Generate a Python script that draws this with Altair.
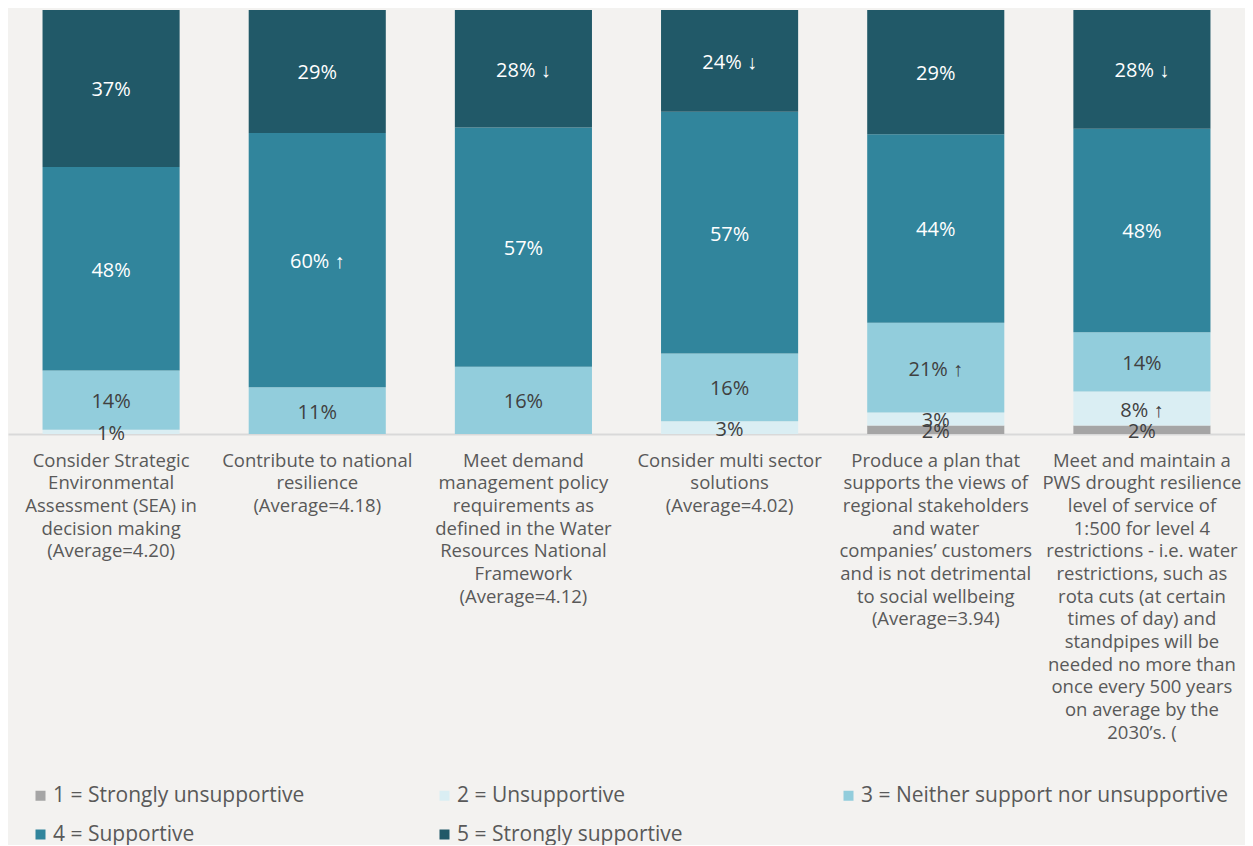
import altair as alt
import pandas as pd

categories = [
    "Consider Strategic|Environmental|Assessment (SEA) in|decision making|(Average=4.20)",
    "Contribute to national|resilience|(Average=4.18)",
    "Meet demand|management policy|requirements as|defined in the Water|Resources National|Framework|(Average=4.12)",
    "Consider multi sector|solutions|(Average=4.02)",
    "Produce a plan that|supports the views of|regional stakeholders|and water|companies\u2019 customers|and is not detrimental|to social wellbeing|(Average=3.94)",
    "Meet and maintain a|PWS drought resilience|level of service of|1:500 for level 4|restrictions - i.e. water|restrictions, such as|rota cuts (at certain|times of day) and|standpipes will be|needed no more than|once every 500 years|on average by the|2030\u2019s. (",
]

levels = [
    "1 = Strongly unsupportive",
    "2 = Unsupportive",
    "3 = Neither support nor unsupportive",
    "4 = Supportive",
    "5 = Strongly supportive",
]
level_colors = ["#a5a5a5", "#daeef3", "#92cddc", "#31859c", "#215968"]

v1 = [0, 0, 0, 0, 2, 2]
v2 = [1, 0, 0, 3, 3, 8]
v3 = [14, 11, 16, 16, 21, 14]
v4 = [48, 60, 57, 57, 44, 48]
v5 = [37, 29, 28, 24, 29, 28]

a1 = ["", "", "", "", "", ""]
a2 = ["", "", "", "", "", " \u2191"]
a3 = ["", "", "", "", " \u2191", ""]
a4 = ["", " \u2191", "", "", "", ""]
a5 = ["", "", " \u2193", " \u2193", "", " \u2193"]

values = [v1, v2, v3, v4, v5]
arrows = [a1, a2, a3, a4, a5]

rows = []
for li, lev in enumerate(levels):
    for ci, cat in enumerate(categories):
        v = values[li][ci]
        rows.append({
            "cat": cat,
            "level": lev,
            "idx": li + 1,
            "value": v,
            "label": f"{v}%{arrows[li][ci]}",
        })
df = pd.DataFrame(rows)

FONT = "Open Sans"

base = alt.Chart(df).transform_filter(
    "datum.value > 0"
).transform_stack(
    stack="value", groupby=["cat"], as_=["y0", "y1"],
    sort=[alt.SortField("idx", order="ascending")], offset="normalize"
).transform_calculate(
    mid="(datum.y0 + datum.y1) / 2"
)

xenc = alt.X(
    "cat:N", sort=categories, title=None,
    scale=alt.Scale(paddingInner=0.335, paddingOuter=0.1675),
    axis=alt.Axis(
        labelExpr="split(datum.value, '|')",
        labelAngle=0, labelFontSize=18.5, labelColor="#595959", labelFont=FONT,
        labelLineHeight=22.7, labelPadding=17, ticks=False,
        domainColor="#d9d9d9", domainWidth=2, labelLimit=300,
    ),
)

bars = base.mark_bar().encode(
    x=xenc,
    y=alt.Y("y0:Q", scale=alt.Scale(domain=[0, 1]), axis=None),
    y2="y1:Q",
    color=alt.Color(
        "level:N", sort=levels,
        scale=alt.Scale(domain=levels, range=level_colors),
        legend=alt.Legend(
            title=None, orient="none", legendX=22, legendY=775,
            direction="horizontal",
            columns=3, gridAlign="all", symbolType="square", symbolSize=100,
            symbolStrokeWidth=0, labelFontSize=21, labelColor="#595959",
            labelFont=FONT, rowPadding=17, columnPadding=14, labelOffset=2,
            labelLimit=500,
        ),
    ),
)

texts = base.mark_text(fontSize=20, font=FONT, dy=2).encode(
    x=alt.X("cat:N", sort=categories),
    y=alt.Y("mid:Q", scale=alt.Scale(domain=[0, 1])),
    text="label:N",
    color=alt.condition("datum.idx >= 4", alt.value("#ffffff"), alt.value("#404040")),
)

chart = alt.layer(bars, texts).properties(
    width=1237, height=424,
    padding={"left": 0, "top": 2, "right": 0, "bottom": 0},
    background="#f3f2f0",
).configure_view(stroke=None)

chart.save("out.html", embed_options={"renderer": "svg", "actions": False})
